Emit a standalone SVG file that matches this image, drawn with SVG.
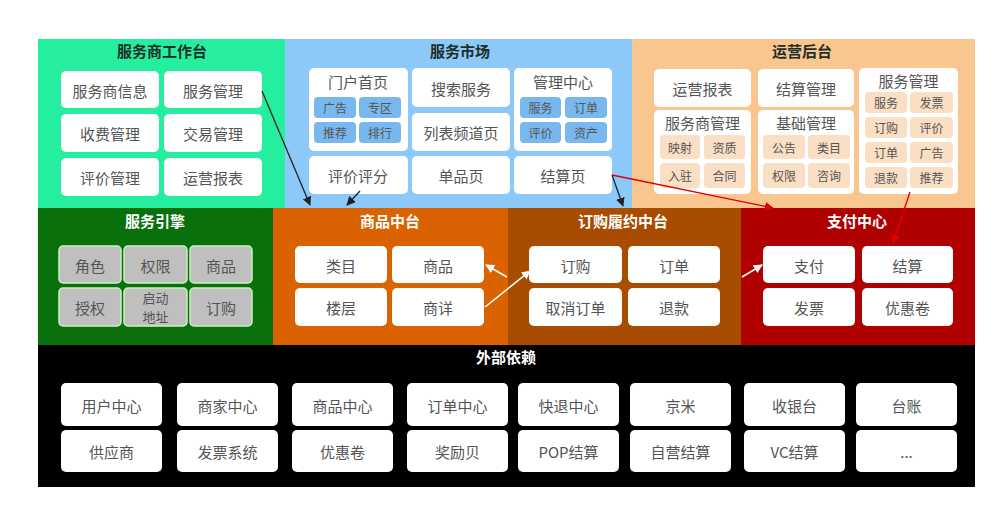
<svg xmlns="http://www.w3.org/2000/svg" width="1000" height="510" viewBox="0 0 1000 510">
<defs>
<style>
text{font-family:"Noto Sans CJK SC","Liberation Sans",sans-serif;text-anchor:middle;dominant-baseline:central}
.t{font-size:15px;font-weight:bold;fill:#1e2e2a}
.tw{font-size:15px;font-weight:bold;fill:#ffffff}
.b{fill:#ffffff}
.bt{font-size:15px;fill:#555555}
.st{font-size:12px;fill:#555555}
.sb{fill:#78b8ee}
.sp{fill:#fbdfc4}
.g{fill:#bfbfbf;stroke:#c9f2c0;stroke-width:1.5}
.gt{font-size:15px;fill:#555555}
.gs{font-size:13px;fill:#555555}
.k{stroke:#222222;stroke-width:1.3;fill:none}
.r{stroke:#e00000;stroke-width:1.3;fill:none}
.w{stroke:#ffffff;stroke-width:1.6;fill:none}
</style>
<marker id="ak" viewBox="0 0 10 10" refX="9" refY="5" markerWidth="9" markerHeight="9" markerUnits="userSpaceOnUse" orient="auto"><path d="M0,0 L10,5 L0,10 z" fill="#222222"/></marker>
<marker id="ar" viewBox="0 0 10 10" refX="9" refY="5" markerWidth="9" markerHeight="9" markerUnits="userSpaceOnUse" orient="auto"><path d="M0,0 L10,5 L0,10 z" fill="#e00000"/></marker>
<marker id="aw" viewBox="0 0 10 10" refX="9" refY="5" markerWidth="9" markerHeight="9" markerUnits="userSpaceOnUse" orient="auto"><path d="M0,0 L10,5 L0,10 z" fill="#ffffff"/></marker>
</defs>

<g id="panel-workbench">
<rect x="38" y="39" width="247" height="169" fill="#26ee9f"/>
<text class="t" x="162" y="50">服务商工作台</text>
<rect class="b" x="61" y="71" width="98" height="37" rx="5"/><text class="bt" x="110" y="90">服务商信息</text>
<rect class="b" x="164" y="71" width="98" height="37" rx="5"/><text class="bt" x="213" y="90">服务管理</text>
<rect class="b" x="61" y="114" width="98" height="38" rx="5"/><text class="bt" x="110" y="133">收费管理</text>
<rect class="b" x="164" y="114" width="98" height="38" rx="5"/><text class="bt" x="213" y="133">交易管理</text>
<rect class="b" x="61" y="158" width="98" height="38" rx="5"/><text class="bt" x="110" y="177">评价管理</text>
<rect class="b" x="164" y="158" width="98" height="38" rx="5"/><text class="bt" x="213" y="177">运营报表</text>
</g>

<g id="panel-market">
<rect x="285" y="39" width="347" height="169" fill="#8cc8f8"/>
<text class="t" x="460" y="50">服务市场</text>
<rect class="b" x="309" y="68" width="99" height="83" rx="5"/><text class="bt" x="358" y="81">门户首页</text>
<rect class="sb" x="314" y="97" width="42" height="21" rx="4"/><text class="st" x="335" y="107.5">广告</text>
<rect class="sb" x="359" y="97" width="42" height="21" rx="4"/><text class="st" x="380" y="107.5">专区</text>
<rect class="sb" x="314" y="122" width="42" height="21" rx="4"/><text class="st" x="335" y="132.5">推荐</text>
<rect class="sb" x="359" y="122" width="42" height="21" rx="4"/><text class="st" x="380" y="132.5">排行</text>
<rect class="b" x="412" y="68" width="98" height="39" rx="5"/><text class="bt" x="461" y="88">搜索服务</text>
<rect class="b" x="412" y="113" width="98" height="38" rx="5"/><text class="bt" x="461" y="132">列表频道页</text>
<rect class="b" x="514" y="68" width="98" height="83" rx="5"/><text class="bt" x="563" y="81">管理中心</text>
<rect class="sb" x="520" y="97" width="41" height="21" rx="4"/><text class="st" x="540.5" y="107.5">服务</text>
<rect class="sb" x="565" y="97" width="42" height="21" rx="4"/><text class="st" x="586" y="107.5">订单</text>
<rect class="sb" x="520" y="122" width="41" height="21" rx="4"/><text class="st" x="540.5" y="132.5">评价</text>
<rect class="sb" x="565" y="122" width="42" height="21" rx="4"/><text class="st" x="586" y="132.5">资产</text>
<rect class="b" x="309" y="156" width="99" height="38" rx="5"/><text class="bt" x="358" y="175">评价评分</text>
<rect class="b" x="412" y="156" width="98" height="38" rx="5"/><text class="bt" x="461" y="175">单品页</text>
<rect class="b" x="514" y="156" width="98" height="38" rx="5"/><text class="bt" x="563" y="175">结算页</text>
</g>

<g id="panel-ops">
<rect x="632" y="39" width="343" height="169" fill="#fac690"/>
<text class="t" x="802" y="50">运营后台</text>
<rect class="b" x="654" y="69" width="97" height="38" rx="5"/><text class="bt" x="702.5" y="88">运营报表</text>
<rect class="b" x="758" y="69" width="96" height="38" rx="5"/><text class="bt" x="806" y="88">结算管理</text>
<rect class="b" x="654" y="110" width="97" height="84" rx="5"/><text class="bt" x="702.5" y="122">服务商管理</text>
<rect class="sp" x="660" y="135" width="40" height="24" rx="4"/><text class="st" x="680" y="147">映射</text>
<rect class="sp" x="704" y="135" width="41" height="24" rx="4"/><text class="st" x="724.5" y="147">资质</text>
<rect class="sp" x="660" y="163" width="40" height="25" rx="4"/><text class="st" x="680" y="175.5">入驻</text>
<rect class="sp" x="704" y="163" width="41" height="25" rx="4"/><text class="st" x="724.5" y="175.5">合同</text>
<rect class="b" x="758" y="110" width="96" height="84" rx="5"/><text class="bt" x="806" y="122">基础管理</text>
<rect class="sp" x="763" y="135" width="42" height="24" rx="4"/><text class="st" x="784" y="147">公告</text>
<rect class="sp" x="808" y="135" width="42" height="24" rx="4"/><text class="st" x="829" y="147">类目</text>
<rect class="sp" x="763" y="163" width="42" height="25" rx="4"/><text class="st" x="784" y="175.5">权限</text>
<rect class="sp" x="808" y="163" width="42" height="25" rx="4"/><text class="st" x="829" y="175.5">咨询</text>
<rect class="b" x="859" y="68" width="99" height="126" rx="5"/><text class="bt" x="908.5" y="80">服务管理</text>
<rect class="sp" x="865" y="92" width="42" height="21" rx="4"/><text class="st" x="886" y="102.5">服务</text>
<rect class="sp" x="910" y="92" width="43" height="21" rx="4"/><text class="st" x="931.5" y="102.5">发票</text>
<rect class="sp" x="865" y="117" width="42" height="21" rx="4"/><text class="st" x="886" y="127.5">订购</text>
<rect class="sp" x="910" y="117" width="43" height="21" rx="4"/><text class="st" x="931.5" y="127.5">评价</text>
<rect class="sp" x="865" y="142" width="42" height="21" rx="4"/><text class="st" x="886" y="152.5">订单</text>
<rect class="sp" x="910" y="142" width="43" height="21" rx="4"/><text class="st" x="931.5" y="152.5">广告</text>
<rect class="sp" x="865" y="167" width="42" height="21" rx="4"/><text class="st" x="886" y="177.5">退款</text>
<rect class="sp" x="910" y="167" width="43" height="21" rx="4"/><text class="st" x="931.5" y="177.5">推荐</text>
</g>

<g id="panel-engine">
<rect x="38" y="208" width="235" height="137" fill="#0a700c"/>
<text class="tw" x="155" y="220">服务引擎</text>
<rect class="g" x="59" y="246" width="62" height="37" rx="4"/><text class="gt" x="90" y="265">角色</text>
<rect class="g" x="124" y="246" width="63" height="37" rx="4"/><text class="gt" x="155.5" y="265">权限</text>
<rect class="g" x="190" y="246" width="62" height="37" rx="4"/><text class="gt" x="221" y="265">商品</text>
<rect class="g" x="59" y="288" width="62" height="38" rx="4"/><text class="gt" x="90" y="307">授权</text>
<rect class="g" x="124" y="288" width="63" height="38" rx="4"/><text class="gs" x="155.5" y="297">启动</text><text class="gs" x="155.5" y="316.5">地址</text>
<rect class="g" x="190" y="288" width="62" height="38" rx="4"/><text class="gt" x="221" y="307">订购</text>
</g>

<g id="panel-goods">
<rect x="273" y="208" width="235" height="137" fill="#da6200"/>
<text class="tw" x="390" y="220">商品中台</text>
<rect class="b" x="295" y="246" width="92" height="37" rx="5"/><text class="bt" x="341" y="265">类目</text>
<rect class="b" x="392" y="246" width="92" height="37" rx="5"/><text class="bt" x="438" y="265">商品</text>
<rect class="b" x="295" y="288" width="92" height="38" rx="5"/><text class="bt" x="341" y="307">楼层</text>
<rect class="b" x="392" y="288" width="92" height="38" rx="5"/><text class="bt" x="438" y="307">商详</text>
</g>

<g id="panel-order">
<rect x="508" y="208" width="233" height="137" fill="#a84c02"/>
<text class="tw" x="623" y="220">订购履约中台</text>
<rect class="b" x="529" y="246" width="93" height="37" rx="5"/><text class="bt" x="575.5" y="265">订购</text>
<rect class="b" x="628" y="246" width="92" height="37" rx="5"/><text class="bt" x="674" y="265">订单</text>
<rect class="b" x="529" y="288" width="93" height="38" rx="5"/><text class="bt" x="575.5" y="307">取消订单</text>
<rect class="b" x="628" y="288" width="92" height="38" rx="5"/><text class="bt" x="674" y="307">退款</text>
</g>

<g id="panel-pay">
<rect x="741" y="208" width="234" height="137" fill="#b00000"/>
<text class="tw" x="857" y="220">支付中心</text>
<rect class="b" x="763" y="246" width="92" height="37" rx="5"/><text class="bt" x="809" y="265">支付</text>
<rect class="b" x="862" y="246" width="91" height="37" rx="5"/><text class="bt" x="907.5" y="265">结算</text>
<rect class="b" x="763" y="288" width="92" height="38" rx="5"/><text class="bt" x="809" y="307">发票</text>
<rect class="b" x="862" y="288" width="91" height="38" rx="5"/><text class="bt" x="907.5" y="307">优惠卷</text>
</g>

<g id="panel-external">
<rect x="38" y="345" width="937" height="142" fill="#000000"/>
<text class="tw" x="506" y="356">外部依赖</text>
<rect class="b" x="61" y="383" width="101" height="43" rx="5"/><text class="bt" x="111.5" y="405">用户中心</text>
<rect class="b" x="177" y="383" width="101" height="43" rx="5"/><text class="bt" x="227.5" y="405">商家中心</text>
<rect class="b" x="292" y="383" width="101" height="43" rx="5"/><text class="bt" x="342.5" y="405">商品中心</text>
<rect class="b" x="407" y="383" width="101" height="43" rx="5"/><text class="bt" x="457.5" y="405">订单中心</text>
<rect class="b" x="518" y="383" width="101" height="43" rx="5"/><text class="bt" x="568.5" y="405">快退中心</text>
<rect class="b" x="630" y="383" width="101" height="43" rx="5"/><text class="bt" x="680.5" y="405">京米</text>
<rect class="b" x="744" y="383" width="101" height="43" rx="5"/><text class="bt" x="794.5" y="405">收银台</text>
<rect class="b" x="856" y="383" width="101" height="43" rx="5"/><text class="bt" x="906.5" y="405">台账</text>
<rect class="b" x="61" y="430" width="101" height="42" rx="5"/><text class="bt" x="111.5" y="451">供应商</text>
<rect class="b" x="177" y="430" width="101" height="42" rx="5"/><text class="bt" x="227.5" y="451">发票系统</text>
<rect class="b" x="292" y="430" width="101" height="42" rx="5"/><text class="bt" x="342.5" y="451">优惠卷</text>
<rect class="b" x="407" y="430" width="101" height="42" rx="5"/><text class="bt" x="457.5" y="451">奖励贝</text>
<rect class="b" x="518" y="430" width="101" height="42" rx="5"/><text class="bt" x="568.5" y="451">POP结算</text>
<rect class="b" x="630" y="430" width="101" height="42" rx="5"/><text class="bt" x="680.5" y="451">自营结算</text>
<rect class="b" x="744" y="430" width="101" height="42" rx="5"/><text class="bt" x="794.5" y="451">VC结算</text>
<rect class="b" x="856" y="430" width="101" height="42" rx="5"/><text class="bt" x="906.5" y="451">...</text>
</g>

<g id="connectors">
<line class="k" x1="262" y1="91" x2="310" y2="205" marker-end="url(#ak)"/>
<line class="k" x1="360" y1="191" x2="347" y2="205" marker-end="url(#ak)"/>
<line class="k" x1="612" y1="175" x2="623" y2="206" marker-end="url(#ak)"/>
<line class="r" x1="612" y1="175" x2="773" y2="208" marker-end="url(#ar)"/>
<line class="r" x1="910" y1="192" x2="893" y2="243" marker-end="url(#ar)"/>
<line class="w" x1="507" y1="277" x2="486" y2="265" marker-end="url(#aw)"/>
<line class="w" x1="485" y1="307" x2="530" y2="271" marker-end="url(#aw)"/>
<line class="w" x1="742" y1="277" x2="762" y2="265" marker-end="url(#aw)"/>
</g>
</svg>
